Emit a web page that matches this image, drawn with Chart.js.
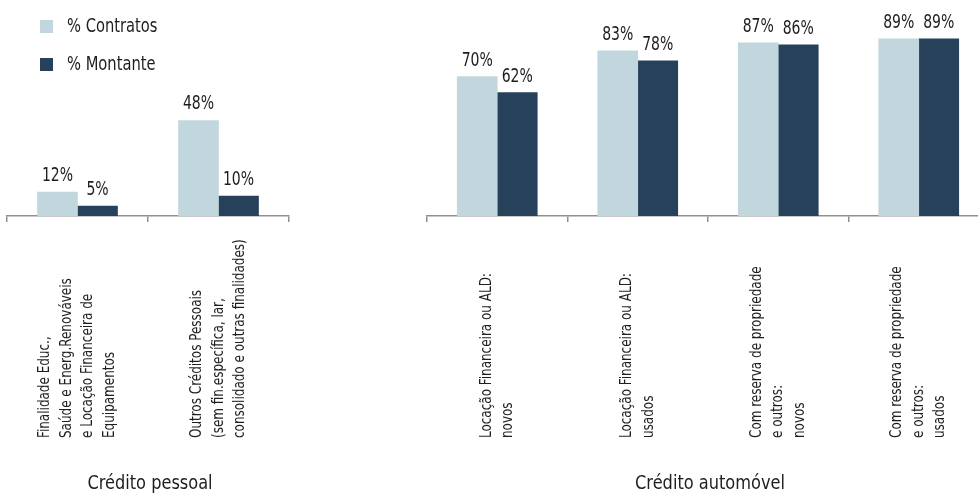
<!DOCTYPE html>
<html>
<head>
<meta charset="utf-8">
<script src="https://cdn.jsdelivr.net/npm/chart.js@4/dist/chart.umd.min.js"></script>
<style>
  html, body { margin: 0; padding: 0; background: #fff; overflow: hidden; }
  #wrap { position: relative; width: 978px; height: 494px; overflow: hidden; background: #fff; }
  canvas { position: absolute; top: 0; }
  #c1 { left: 0; }
  #c2 { left: 420px; }
</style>
</head>
<body>
<div id="wrap">
  <canvas id="c1" width="300" height="494"></canvas>
  <canvas id="c2" width="580" height="494"></canvas>
</div>
<script>
// ---- data ----
const seriesNames = ["% Contratos", "% Montante"];
const panelTitles = ["Crédito pessoal", "Crédito automóvel"];
const catsPessoal = [
  ["Finalidade Educ.,", "Saúde e Energ.Renováveis", "e Locação Financeira de", "Equipamentos"],
  ["Outros Créditos Pessoais", "(sem fin.específica, lar,", "consolidado e outras finalidades)"]
];
const contratosPessoal = [12, 48];
const montantePessoal = [5, 10];
const catsAuto = [
  ["Locação Financeira ou ALD:", "novos"],
  ["Locação Financeira ou ALD:", "usados"],
  ["Com reserva de propriedade", "e outros:", "novos"],
  ["Com reserva de propriedade", "e outros:", "usados"]
];
const contratosAuto = [70, 83, 87, 89];
const montanteAuto = [62, 78, 86, 89];

// ---- style ----
const FONT = "'Liberation Sans Narrow', 'Arial Narrow', 'DejaVu Sans Condensed', sans-serif";
const COL_LIGHT = "#C2D7DD";
const COL_DARK = "#27415B";
const TEXT = "#1e1e1e";
const AXIS = "#8f8f8f";

function narrowText(ctx, t, x, y, f) {
  const w = ctx.measureText(t).width;
  ctx.fillText(t, x, y, w * f);
}

const labelPlugin = {
  id: "customText",
  afterDatasetsDraw(chart) {
    const ctx = chart.ctx;
    ctx.save();
    ctx.fillStyle = TEXT;
    ctx.font = "19px " + FONT;
    ctx.textAlign = "center";
    ctx.textBaseline = "alphabetic";
    chart.data.datasets.forEach((ds, di) => {
      const meta = chart.getDatasetMeta(di);
      meta.data.forEach((bar, i) => {
        narrowText(ctx, ds.data[i] + "%", bar.x, bar.y - 11, 0.82);
      });
    });
    ctx.restore();
  },
  afterDraw(chart, args, opts) {
    const ctx = chart.ctx;
    const xs = chart.scales.x;
    const lh = 21.5;
    ctx.save();
    ctx.fillStyle = TEXT;
    ctx.font = "15.5px " + FONT;
    ctx.textAlign = "left";
    ctx.textBaseline = "middle";
    chart.data.labels.forEach((lines, i) => {
      const cx = xs.getPixelForValue(i);
      lines.forEach((ln, j) => {
        const x = cx + (j - (lines.length - 1) / 2) * lh;
        ctx.save();
        ctx.translate(x, 438);
        ctx.rotate(-Math.PI / 2);
        narrowText(ctx, ln, 0, 0, 0.86);
        ctx.restore();
      });
    });
    // panel title
    ctx.font = "20px " + FONT;
    ctx.textAlign = "center";
    ctx.textBaseline = "alphabetic";
    const ca = chart.chartArea;
    narrowText(ctx, opts.title, (ca.left + ca.right) / 2 + 2, 489, 0.9);
    // legend
    if (opts.legend) {
      ctx.font = "19px " + FONT;
      ctx.textAlign = "left";
      ctx.textBaseline = "middle";
      chart.data.datasets.forEach((ds, di) => {
        const y = 20 + di * 38;
        ctx.fillStyle = ds.backgroundColor;
        ctx.fillRect(40, y, 13, 13);
        ctx.fillStyle = TEXT;
        narrowText(ctx, ds.label, 67, y + 7, 0.86);
      });
    }
    ctx.restore();
  }
};

function makeChart(id, cats, a, b, title, legend) {
  return new Chart(document.getElementById(id), {
    type: "bar",
    data: {
      labels: cats,
      datasets: [
        { label: seriesNames[0], data: a, backgroundColor: COL_LIGHT, barThickness: 40 },
        { label: seriesNames[1], data: b, backgroundColor: COL_DARK, barThickness: 40 }
      ]
    },
    options: {
      responsive: false,
      animation: false,
      devicePixelRatio: 1,
      layout: { padding: { left: 7, right: 11, top: 17, bottom: 0 } },
      plugins: {
        legend: { display: false },
        tooltip: { enabled: false },
        customText: { title: title, legend: legend }
      },
      scales: {
        y: { display: false, min: 0, max: 100 },
        x: {
          offset: true,
          grid: { display: true, offset: true, drawOnChartArea: false, drawTicks: true, tickLength: 6, color: AXIS, lineWidth: 1.5 },
          border: { display: true, color: AXIS, width: 1.5 },
          ticks: { display: false },
          afterFit: (s) => { s.height = 278; }
        }
      }
    },
    plugins: [labelPlugin]
  });
}

makeChart("c1", catsPessoal, contratosPessoal, montantePessoal, panelTitles[0], true);
makeChart("c2", catsAuto, contratosAuto, montanteAuto, panelTitles[1], false);
</script>
</body>
</html>
